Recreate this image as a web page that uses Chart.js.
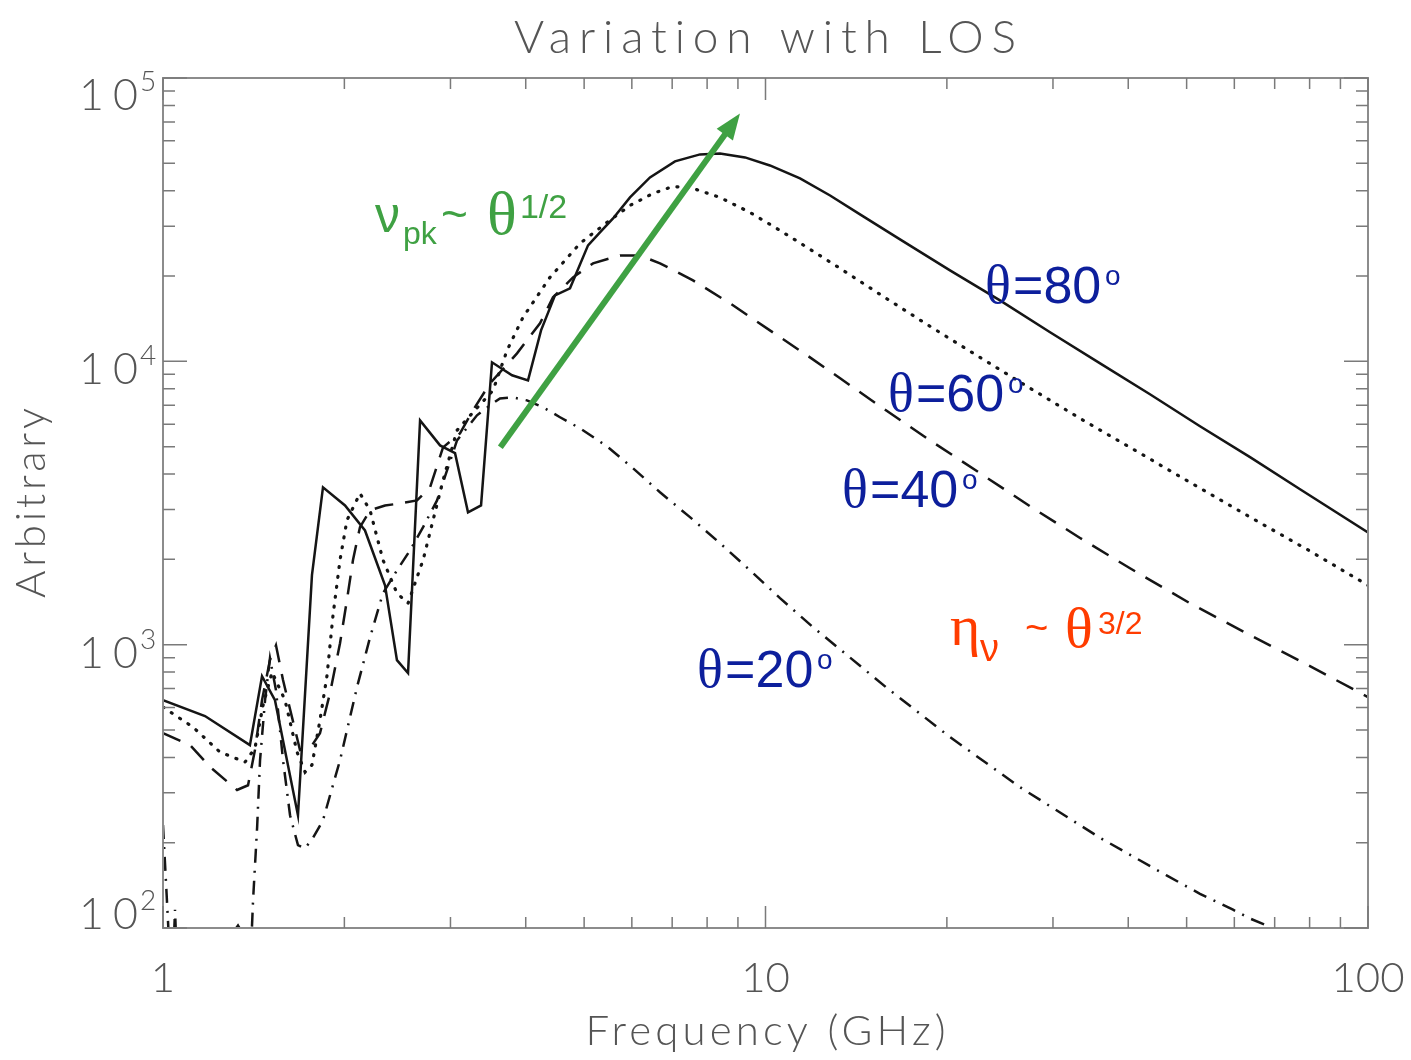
<!DOCTYPE html>
<html><head><meta charset="utf-8">
<script src="https://cdn.jsdelivr.net/npm/chart.js@4.4.1/dist/chart.umd.min.js"></script>
<style>html,body{margin:0;padding:0;background:#fff;}#wrap{width:1411px;height:1060px;}</style>
</head><body><div id="wrap"><canvas id="c" width="1411" height="1060"></canvas></div>
<script>
// ---------------- data ----------------
const freq80 = [1.00,1.174,1.394,1.46,1.534,1.675,1.767,1.843,2.005,2.164,2.336,2.445,2.551,2.671,2.883,3.053,3.208,3.372,3.516,3.796,4.035,4.241,4.473,4.737,5.075,5.312,5.584,5.958,6.431,7.076,7.786,8.405,9.247,10.17,11.41,12.80,14.35,16.72,20.24,24.50,29.67,35.92,43.46,52.62,63.71,77.13,100];
const val80  = [637,560,442,774,637,250,1760,3590,3100,2530,1620,882,794,6190,5050,4740,2930,3100,9920,8930,8570,12860,17090,18100,25660,28510,31930,37880,44570,50770,53750,54160,52440,49130,44220,38500,33000,26930,20940,16410,12660,9840,7650,5900,4590,3535,2490];

const freq60 = [1.00,1.121,1.243,1.368,1.421,1.466,1.517,1.594,1.669,1.721,1.767,1.822,1.872,1.915,1.967,2.02,2.123,2.206,2.318,2.445,2.551,2.702,2.807,2.916,3.076,3.294,3.53,3.724,3.958,4.388,4.922,5.458,5.958,6.506,7.022,7.58,8.405,9.425,10.57,11.86,13.30,15.49,18.75,22.70,27.17,33.27,40.27,50.65,63.71,80.11,100];
const val60  = [602,512,418,385,431,612,800,637,418,355,376,542,780,1270,1990,2750,3420,2980,1990,1520,1400,1990,2750,3800,5710,6720,7900,10930,14300,19790,26080,30930,35500,39140,41440,40770,37880,33540,28980,24840,21280,17230,13290,10330,8160,6290,4970,3740,2820,2140,1620];

const freq40 = [1.00,1.109,1.197,1.327,1.384,1.421,1.46,1.505,1.54,1.582,1.637,1.688,1.754,1.822,1.893,1.967,2.02,2.067,2.123,2.206,2.336,2.474,2.64,2.775,2.916,3.111,3.27,3.489,3.869,4.224,4.439,4.792,5.173,5.735,6.19,6.682,7.58,8.732,10.17,11.72,13.30,15.49,18.75,22.70,27.48,33.27,40.27,50.65,63.71,80.11,100];
const val40  = [487,442,370,307,319,425,637,882,995,750,555,425,431,487,674,1012,1440,1990,2600,2980,3100,3150,3230,3590,4970,5570,6720,8360,10670,13620,16820,19790,22170,23650,23650,22170,19310,16020,12860,10500,8710,6940,5260,4030,3080,2380,1860,1400,1080,840,653];

const freq20 = [1.00,1.011,1.023,1.035,1.047,1.059,1.174,1.30,1.332,1.36,1.389,1.411,1.433,1.449,1.477,1.505,1.54,1.582,1.625,1.675,1.721,1.774,1.843,1.967,2.099,2.206,2.318,2.445,2.570,2.702,2.85,2.961,3.076,3.32,3.489,3.625,3.81,4.019,4.273,4.56,4.922,5.458,6.027,6.682,7.492,8.405,9.425,10.57,11.99,13.66,15.91,20.24,26.45,35.92,46.39,52.62,59.70,63.71,67.99,72.8];
const val20  = [231,148,91,60,116,60,37,95,102,95,56,126,227,391,637,896,691,391,250,196,191,208,240,391,708,1060,1520,1830,2150,2600,3230,4120,5260,6450,6990,7400,7460,7280,6880,6350,5800,5010,4195,3450,2820,2280,1830,1460,1153,918,703,472,314,208,153,132,116,108,102,89];

const xTickValues = [1,10,100];
const xTickLabels = ['1','10','100'];
const yTickValues = [100,1000,10000,100000];
const yTickExponents = ['2','3','4','5'];

const arrowFreq = [3.63, 9.07];
const arrowVal  = [4970, 74900];

const chartTitle = 'Variation with LOS';
const xTitle = 'Frequency (GHz)';
const yTitle = 'Arbitrary';
const seriesNames = ['θ=80','θ=60','θ=40','θ=20'];
const labelFreq = [23.14, 15.97, 13.40, 7.70];
const labelVal  = [16020, 6660, 3055, 708];
const greenAnchor = [2.248, 28510];
const orangeAnchor = [20.24, 1000];

// ---------------- helpers ----------------
const SANS = '"Liberation Sans", Arial, sans-serif';
const SERIF = '"Liberation Serif", "Times New Roman", serif';
const AX = 'Lato, "DejaVu Sans", sans-serif';
const toXY = (fs, vs) => fs.map((f, i) => ({x: f, y: vs[i]}));

function runs(ctx, x0, y0, list, color) {
  ctx.fillStyle = color; ctx.textAlign = 'left'; ctx.textBaseline = 'alphabetic';
  for (const r of list) { ctx.font = r.f; ctx.fillText(r.t, x0 + r.dx, y0 + r.dy); }
}
function spaced(ctx, text, cx, baseline, font, target) {
  ctx.font = font; ctx.letterSpacing = '0px';
  const w = ctx.measureText(text).width;
  const sp = (target - w) / (text.length - 1);
  ctx.letterSpacing = sp + 'px';
  ctx.textAlign = 'left';
  ctx.fillText(text, cx - target / 2, baseline);
  ctx.letterSpacing = '0px';
}

const deco = {
  id: 'deco',
  afterDatasetsDraw(chart) {
    const {ctx, chartArea: a, scales: {x, y}} = chart;
    ctx.save();
    // arrow
    const x1 = x.getPixelForValue(arrowFreq[0]), y1 = y.getPixelForValue(arrowVal[0]);
    const x2 = x.getPixelForValue(arrowFreq[1]), y2 = y.getPixelForValue(arrowVal[1]);
    const ang = Math.atan2(y2 - y1, x2 - x1), L = 26, W = 10;
    const bx = x2 - L * Math.cos(ang), by = y2 - L * Math.sin(ang);
    ctx.strokeStyle = '#3fa143'; ctx.fillStyle = '#3fa143'; ctx.lineWidth = 6; ctx.lineCap = 'butt';
    ctx.beginPath(); ctx.moveTo(x1, y1); ctx.lineTo(bx + 2 * Math.cos(ang), by + 2 * Math.sin(ang)); ctx.stroke();
    ctx.beginPath(); ctx.moveTo(x2, y2);
    ctx.lineTo(bx + W * Math.sin(ang), by - W * Math.cos(ang));
    ctx.lineTo(bx - W * Math.sin(ang), by + W * Math.cos(ang));
    ctx.closePath(); ctx.fill();

    // frame
    ctx.strokeStyle = '#8c8c8c'; ctx.lineWidth = 2;
    ctx.strokeRect(a.left, a.top, a.right - a.left, a.bottom - a.top);
    ctx.lineWidth = 1.5; ctx.strokeStyle = '#7a7a7a';
    const xt = [];
    for (let i = 0; i < xTickValues.length - 1; i++) for (let k = 1; k <= 9; k++) xt.push([k * xTickValues[i], k === 1]);
    xt.push([xTickValues[xTickValues.length - 1], true]);
    for (const [v, maj] of xt) {
      const px = x.getPixelForValue(v), len = maj ? 22 : 11;
      ctx.beginPath(); ctx.moveTo(px, a.bottom); ctx.lineTo(px, a.bottom - len);
      ctx.moveTo(px, a.top); ctx.lineTo(px, a.top + len); ctx.stroke();
    }
    const yt = [];
    for (let i = 0; i < yTickValues.length - 1; i++) for (let k = 1; k <= 9; k++) yt.push([k * yTickValues[i], k === 1]);
    yt.push([yTickValues[yTickValues.length - 1], true]);
    for (const [v, maj] of yt) {
      const py = y.getPixelForValue(v), len = maj ? 24 : 12;
      ctx.beginPath(); ctx.moveTo(a.left, py); ctx.lineTo(a.left + len, py);
      ctx.moveTo(a.right, py); ctx.lineTo(a.right - len, py); ctx.stroke();
    }

    // tick labels
    ctx.fillStyle = '#555'; ctx.textBaseline = 'alphabetic';
    ctx.font = '300 42px ' + AX; ctx.textAlign = 'center';
    xTickValues.forEach((v, i) => ctx.fillText(xTickLabels[i], x.getPixelForValue(v), a.bottom + 64));
    yTickValues.forEach((v, i) => {
      const py = y.getPixelForValue(v);
      const c = Math.min(Math.max(py + 8, a.top + 17), a.bottom - 14);
      ctx.font = '300 43px ' + AX; ctx.textAlign = 'right'; ctx.letterSpacing = '9px';
      ctx.fillText('10', a.left - 16, c + 15);
      ctx.letterSpacing = '0px';
      ctx.font = '300 28px ' + AX; ctx.textAlign = 'left';
      ctx.fillText(yTickExponents[i], a.left - 23, c - 4);
    });

    // titles
    ctx.fillStyle = '#555';
    spaced(ctx, chartTitle, (a.left + a.right) / 2, 53, '300 46px ' + AX, 503);
    spaced(ctx, xTitle, (a.left + a.right) / 2, 1045, '300 42px ' + AX, 360);
    ctx.save(); ctx.translate(45, (a.top + a.bottom) / 2); ctx.rotate(-Math.PI / 2);
    spaced(ctx, yTitle, 0, 0, '300 42px ' + AX, 190);
    ctx.restore();

    // series labels
    const blue = '#0d1f9c';
    seriesNames.forEach((nm, i) => {
      const px = x.getPixelForValue(labelFreq[i]), py = y.getPixelForValue(labelVal[i]);
      runs(ctx, px, py, [
        {t: 'θ', f: '54px ' + SERIF, dx: 0, dy: 0},
        {t: nm.slice(1), f: '52px ' + SANS, dx: 28, dy: 0},
        {t: 'o', f: '28px ' + SANS, dx: 120, dy: -18}
      ], blue);
    });
    const gx = x.getPixelForValue(greenAnchor[0]), gy = y.getPixelForValue(greenAnchor[1]);
    runs(ctx, gx, gy, [
      {t: 'ν', f: '50px ' + SANS, dx: 0, dy: 0},
      {t: 'pk', f: '32px ' + SANS, dx: 28, dy: 12},
      {t: '~', f: '46px ' + SANS, dx: 66, dy: -2},
      {t: 'θ', f: '62px ' + SERIF, dx: 112, dy: 2},
      {t: '1/2', f: '34px ' + SANS, dx: 145, dy: -14}
    ], '#3fa143');
    const ox = x.getPixelForValue(orangeAnchor[0]), oy = y.getPixelForValue(orangeAnchor[1]);
    runs(ctx, ox, oy, [
      {t: 'η', f: '58px ' + SERIF, dx: 0, dy: 0},
      {t: 'ν', f: '38px ' + SANS, dx: 30, dy: 16},
      {t: '~', f: '40px ' + SANS, dx: 75, dy: -4},
      {t: 'θ', f: '58px ' + SERIF, dx: 115, dy: 2},
      {t: '3/2', f: '32px ' + SANS, dx: 148, dy: -11}
    ], '#ff3c00');
    ctx.restore();
  }
};

const common = {pointRadius: 0, borderColor: '#151515', borderWidth: 2.5, fill: false, tension: 0};
new Chart(document.getElementById('c'), {
  type: 'line',
  data: {
    datasets: [
      {...common, label: seriesNames[0], data: toXY(freq80, val80)},
      {...common, label: seriesNames[1], data: toXY(freq60, val60), borderDash: [1, 9], borderCapStyle: 'round', borderWidth: 3.2},
      {...common, label: seriesNames[2], data: toXY(freq40, val40), borderDash: [19, 12]},
      {...common, label: seriesNames[3], data: toXY(freq20, val20), borderDash: [14, 8, 2, 8]}
    ]
  },
  options: {
    responsive: false, animation: false, devicePixelRatio: 1,
    layout: {padding: {left: 163, right: 43, top: 78, bottom: 132}},
    plugins: {legend: {display: false}, tooltip: {enabled: false}, title: {display: false}},
    scales: {
      x: {type: 'logarithmic', min: 1, max: 100, display: false},
      y: {type: 'logarithmic', min: 100, max: 100000, display: false}
    }
  },
  plugins: [deco]
});
</script></body></html>
